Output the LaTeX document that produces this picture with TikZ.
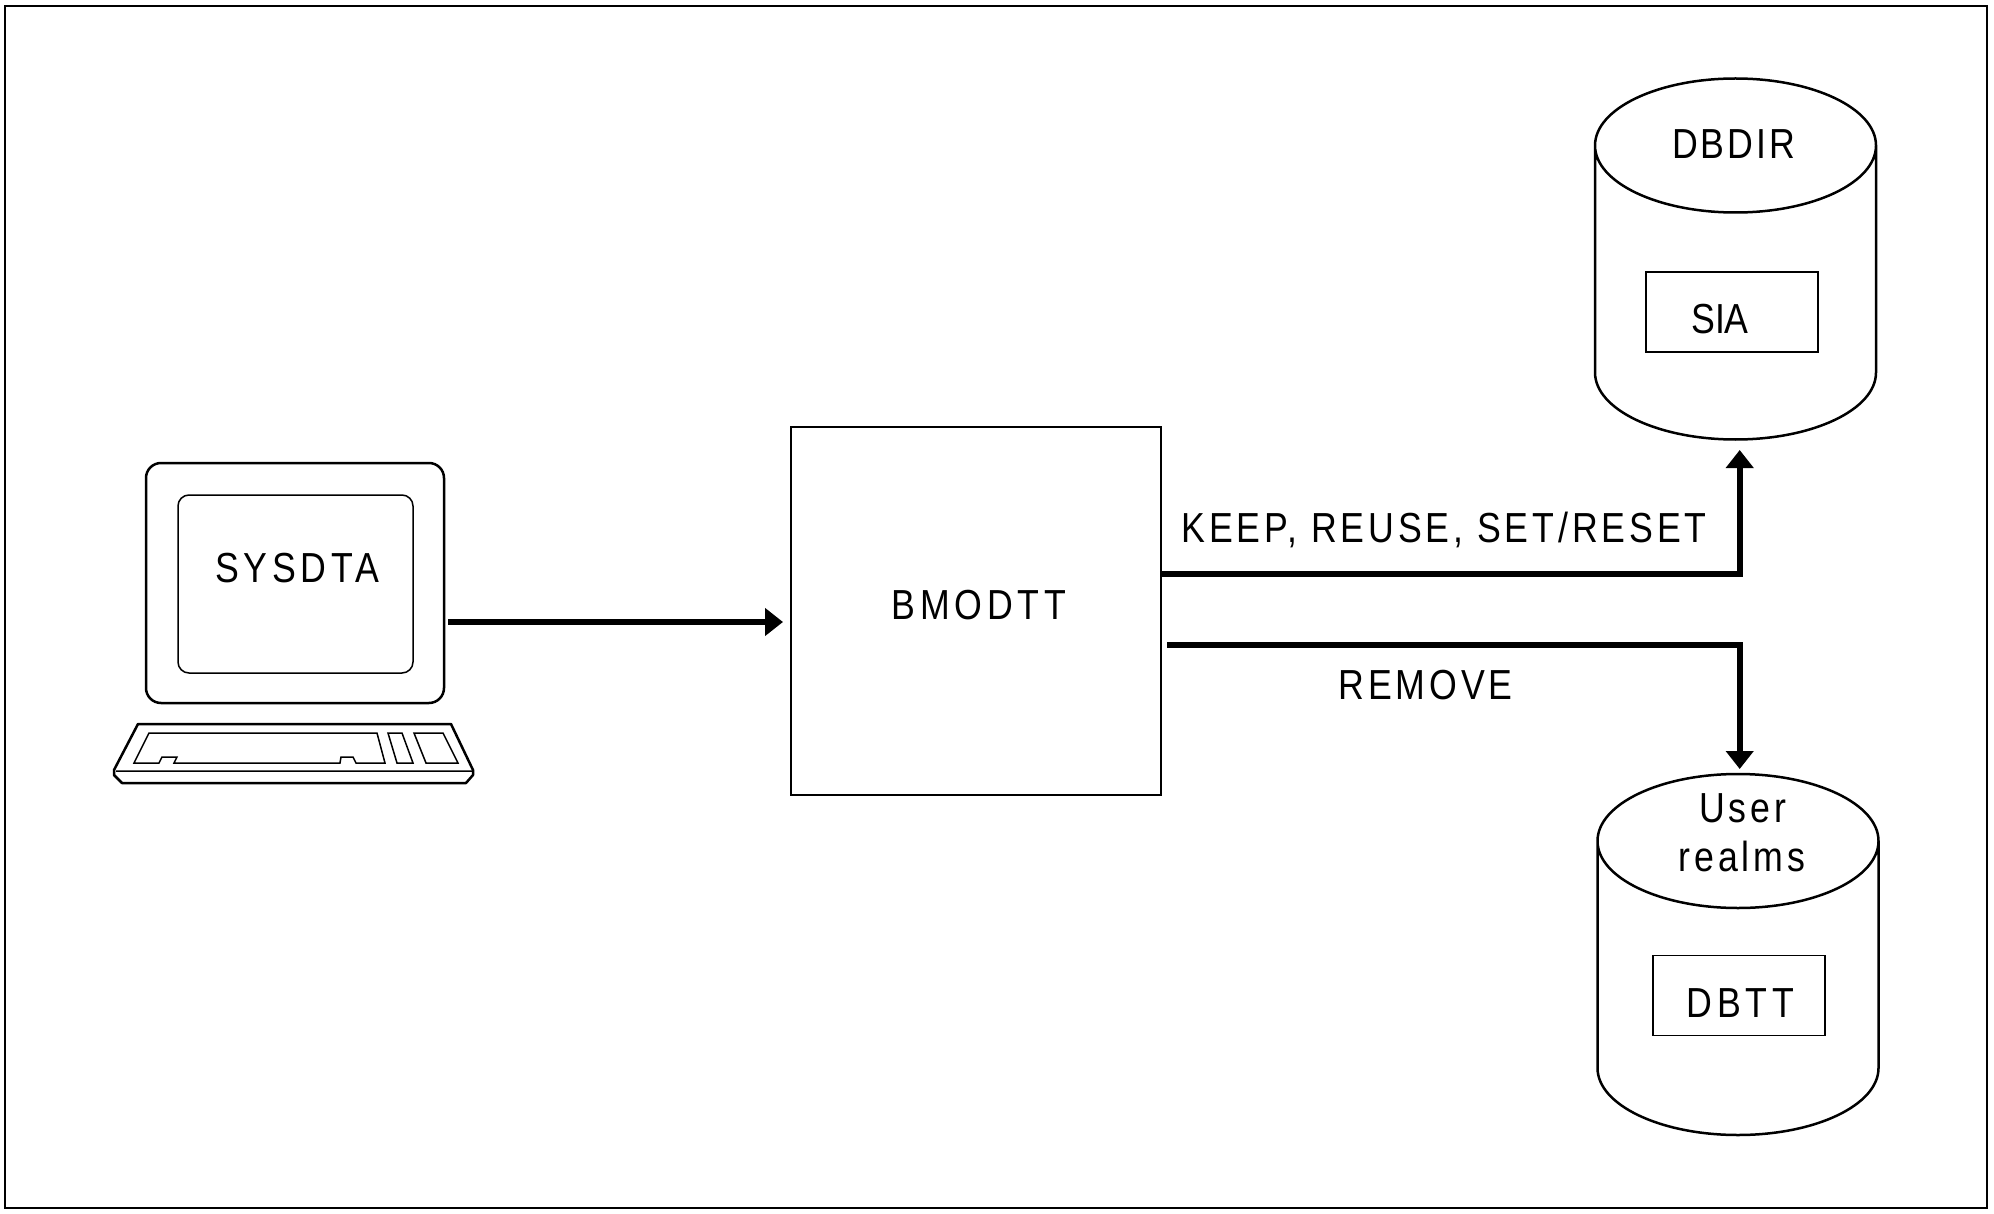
\documentclass[tikz,border=0pt]{standalone}
\usepackage{fontspec}
\usetikzlibrary{arrows.meta}
\newfontfamily\wideface[LetterSpace=11.3,FakeStretch=0.85]{Liberation Sans}
\newfontfamily\plainface[LetterSpace=9.2,FakeStretch=0.85]{Liberation Sans}
\newfontfamily\midface[LetterSpace=7,FakeStretch=0.85]{Liberation Sans}
\newfontfamily\tightface[FakeStretch=0.85]{Liberation Sans}
\tikzset{
  flow/.style={line width=6pt,-{Triangle[length=18pt,width=27pt]}},
  caption/.style={inner sep=0pt,anchor=base,font=\plainface\fontsize{42}{48}\selectfont},
  box/.style={draw,line width=2pt,inner sep=0pt},
  tag/.style={draw,line width=1.5pt,inner sep=0pt,minimum width=172pt,minimum height=80pt},
  drum/.pic={
    \draw[line width=2.5pt]
    (0,0) ellipse [x radius=140.5pt,y radius=67pt]
    (-140.5,0) -- (-140.5,227) arc [start angle=180,end angle=360,x radius=140.5pt,y radius=67pt] -- (140.5,0);
  },
}
\begin{document}
\begin{tikzpicture}[x=1pt,y=-1pt]
    \useasboundingbox (0,0) rectangle (1994,1214);
    \node[box,minimum width=1982pt,minimum height=1202pt] (frame) at (996,607) {};

    \node[box,line width=2.5pt,rounded corners=15pt,minimum width=298pt,minimum height=240pt] (monitor) at (295,583) {};
    \node[box,line width=1.5pt,rounded corners=11pt,minimum width=235pt,minimum height=178pt] (screen) at (295.5,584) {};
    \node[caption,font=\wideface\fontsize{42}{48}\selectfont] (sysdta) at (297,582) {SYSDTA};

    % keyboard
    \draw[line width=2.5pt,line join=round]
    (138,724) -- (451,724) -- (473,770) -- (473,775) -- (466,783)
    -- (122,783) -- (114,775) -- (114,770) -- cycle;
    \draw[line width=1.5pt]
    (116,771) -- (472,771)
    (149,733) -- (377,733) -- (385,763) -- (356,763) -- (353,757) -- (341,757) -- (340,763)
    -- (174,763) -- (177,757) -- (162,757) -- (159,763) -- (134,763) -- cycle
    (388,733) -- (402,733) -- (413,763) -- (397,763) -- cycle
    (414,733) -- (443,733) -- (458,763) -- (426,763) -- cycle;

    \node[box,minimum width=370pt,minimum height=368pt] (bmodtt) at (976,611) {};
    \node[caption,font=\wideface\fontsize{42}{48}\selectfont] (bmodttlabel) at (979,619) {BMODTT};

    \pic (dbdir) at (1735.5,145.5) {drum};
    \node[caption,font=\midface\fontsize{42}{48}\selectfont] (dbdirlabel) at (1733.5,159) {DBDIR};
    \node[tag] (sia) at (1732,312) {};
    \node[caption,font=\tightface\fontsize{42}{48}\selectfont] (sialabel) at (1720,334) {SIA};

    \pic (realms) at (1738,841) {drum};
    \node[caption] (user) at (1742.5,822) {User};
    \node[caption] (realmslabel) at (1742,871) {realms};
    \node[tag] (dbtt) at (1739,995.5) {};
    \node[caption,font=\wideface\fontsize{42}{48}\selectfont] (dbttlabel) at (1740.5,1017) {DBTT};

    \coordinate (monitorout) at (448,622);
    \coordinate (bmodttin) at (783,622);
    \coordinate (keepout) at (1161,573.5);
    \coordinate (dbdirin) at (1739.7,450);
    \coordinate (removeout) at (1167,644.5);
    \coordinate (realmsin) at (1739.7,769);

    \draw[flow] (monitorout) -- (bmodttin);
    \draw[flow] (keepout) -| (dbdirin);
    \draw[flow] (removeout) -| (realmsin);

    \node[caption] (keep) at (1444,542) {KEEP, REUSE, SET/RESET};
    \node[caption] (remove) at (1425.5,699) {REMOVE};
  \end{tikzpicture}
\end{document}
